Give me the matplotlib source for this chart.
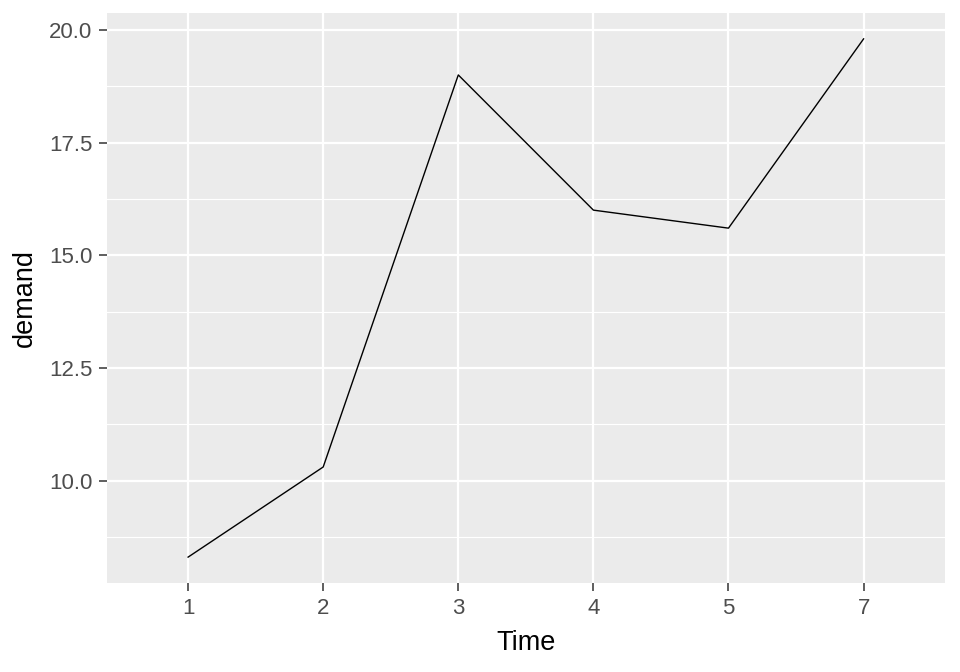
import matplotlib
matplotlib.use("Agg")
import matplotlib.pyplot as plt

plt.rcParams["font.family"] = ["Liberation Sans", "DejaVu Sans"]

# data
time_labels = ["1", "2", "3", "4", "5", "7"]
demand = [8.3, 10.3, 19.0, 16.0, 15.6, 19.8]

y_major = [10.0, 12.5, 15.0, 17.5, 20.0]
y_minor = [8.75, 11.25, 13.75, 16.25, 18.75]

fig = plt.figure(figsize=(9.6, 6.72), dpi=100)
ax = fig.add_axes([0.1115, 0.1324, 0.8725, 0.8483])
ax.set_facecolor("#EBEBEB")

pos = list(range(1, len(time_labels) + 1))
ax.plot(pos, demand, color="black", lw=1.0, zorder=3)

# ggplot style expansion
lo, hi = min(demand), max(demand)
pad = (hi - lo) * 0.05
ax.set_ylim(lo - pad, hi + pad)
ax.set_xlim(0.4, len(pos) + 0.6)

ax.set_xticks(pos)
ax.set_xticklabels(time_labels)
ax.set_yticks(y_major)
ax.set_yticklabels([f"{v:.1f}" for v in y_major])
ax.set_yticks(y_minor, minor=True)

ax.grid(which="major", color="white", lw=1.6)
ax.grid(which="minor", axis="y", color="white", lw=0.8)
ax.set_axisbelow(True)

for s in ax.spines.values():
    s.set_visible(False)

ax.tick_params(which="major", length=5.5, color="#333333", width=1.1,
               labelsize=16, labelcolor="#4D4D4D", pad=5)
ax.tick_params(which="minor", length=0)

ax.set_xlabel("Time", fontsize=19.5, labelpad=8)
ax.set_ylabel("demand", fontsize=19.5, labelpad=8)

fig.savefig("out.png", dpi=100)
